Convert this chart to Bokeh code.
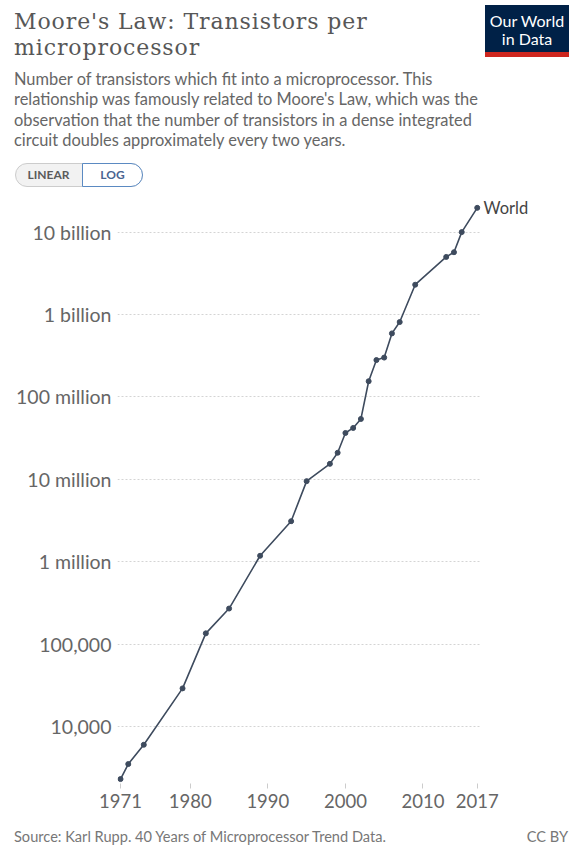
from bokeh.plotting import figure
from bokeh.layouts import column
from bokeh.models import Range1d, FixedTicker, LogAxis, Div
from bokeh.embed import file_html
from bokeh.resources import INLINE

# ---- data ----
years = [1971, 1972, 1974, 1979, 1982, 1985, 1989, 1993, 1995, 1998, 1999, 2000,
         2001, 2002, 2003, 2004, 2005, 2006, 2007, 2009, 2013, 2014, 2015, 2017]
transistors = [2300, 3500, 6000, 29000, 135000, 270000, 1180000, 3100000, 9500000,
               15400000, 21000000, 36500000, 42000000, 54000000, 155000000,
               280000000, 300000000, 590000000, 810000000, 2300000000,
               5000000000, 5700000000, 10000000000, 19700000000]
series_name = "World"

y_ticks = [10**4, 10**5, 10**6, 10**7, 10**8, 10**9, 10**10]
y_tick_labels = ["10,000", "100,000", "1 million", "10 million", "100 million",
                 "1 billion", "10 billion"]
x_ticks = [1971, 1980, 1990, 2000, 2010, 2017]
x_tick_labels = ["1971", "1980", "1990", "2000", "2010", "2017"]

title_lines = ["Moore's Law: Transistors per", "microprocessor"]
subtitle_lines = [
    "Number of transistors which fit into a microprocessor. This",
    "relationship was famously related to Moore's Law, which was the",
    "observation that the number of transistors in a dense integrated",
    "circuit doubles approximately every two years.",
]
source_text = "Source: Karl Rupp. 40 Years of Microprocessor Trend Data."
license_text = "CC BY"

# ---- styling ----
FONT = "Lato"
LINE_COLOR = "#3e4b5e"
W = 572
HEADER_H = 190
FOOTER_H = 22
FIG_H = 848 - HEADER_H - FOOTER_H

# ---- header (HTML) ----
title_html = "<br>".join(title_lines)
subtitle_html = "<br>".join(subtitle_lines)
CB = "box-sizing:content-box;"
header_html = f"""
<div style="position:relative;width:{W}px;height:{HEADER_H}px;overflow:hidden;">
  <div style="position:absolute;left:14px;top:9px;font-family:'DejaVu Serif';
       font-size:22px;line-height:25.8px;letter-spacing:0.9px;color:#575757;
       white-space:nowrap;">{title_html}</div>
  <div style="position:absolute;left:14px;top:69px;font-family:Lato;font-size:16.4px;
       line-height:20.3px;color:#666666;white-space:nowrap;">{subtitle_html}</div>
  <div style="{CB}position:absolute;left:485px;top:5px;width:84px;height:40px;padding-top:7px;
       background:#002147;border-bottom:5px solid #ce261e;color:white;font-family:Lato;
       font-size:16px;line-height:18px;text-align:center;">Our World<br>in Data</div>
  <div style="{CB}position:absolute;left:15px;top:163px;width:126px;height:22px;
       border:1px solid #cccccc;border-radius:12px;background:#f2f2f2;"></div>
  <div style="{CB}position:absolute;left:15px;top:163px;width:67px;height:24px;line-height:24px;
       text-align:center;font-family:Lato;font-size:12px;font-weight:bold;
       color:#5b5b5b;">LINEAR</div>
  <div style="{CB}position:absolute;left:82px;top:163px;width:59px;height:22px;line-height:22px;
       border:1px solid #5b8ac2;border-radius:0 12px 12px 0;background:white;
       text-align:center;font-family:Lato;font-size:12px;font-weight:bold;
       color:#4a6490;">LOG</div>
</div>
"""
header = Div(text=header_html, width=W, height=HEADER_H, margin=0)

footer_html = f"""
<div style="position:relative;width:{W}px;height:{FOOTER_H}px;font-family:Lato;
     font-size:14.6px;line-height:{FOOTER_H}px;color:#777777;white-space:nowrap;">
  <span style="position:absolute;left:14px;top:0;">{source_text}</span>
  <span style="position:absolute;right:4px;top:0;">{license_text}</span>
</div>
"""
footer = Div(text=footer_html, width=W, height=FOOTER_H, margin=0)

# ---- chart ----
p = figure(width=W, height=FIG_H, y_axis_type="log", title=None,
           x_range=Range1d(1970.61, 2017.55),
           y_range=Range1d(10**3.308, 10**10.408),
           output_backend="svg", toolbar_location=None,
           min_border_left=117, min_border_right=91,
           min_border_top=8, min_border_bottom=FIG_H - 8 - 585, margin=0)
p.outline_line_color = None
p.background_fill_color = "white"
p.border_fill_color = "white"

p.yaxis.ticker = FixedTicker(ticks=y_ticks)
p.yaxis.major_label_overrides = {t: l for t, l in zip(y_ticks, y_tick_labels)}
p.yaxis.axis_line_color = None
p.yaxis.major_tick_line_color = None
p.yaxis.major_tick_out = 0
p.yaxis.major_tick_in = 0
p.yaxis.minor_tick_line_color = None
p.yaxis.minor_tick_out = 0
p.yaxis.major_label_standoff = 6
p.yaxis.major_label_text_font = FONT
p.yaxis.major_label_text_font_size = "19.5px"
p.yaxis.major_label_text_color = "#666666"

p.xaxis.ticker = FixedTicker(ticks=x_ticks)
p.xaxis.major_label_overrides = {t: l for t, l in zip(x_ticks, x_tick_labels)}
p.xaxis.axis_line_color = None
p.xaxis.major_tick_line_color = "#cccccc"
p.xaxis.major_tick_in = 0
p.xaxis.major_tick_out = 5
p.xaxis.minor_tick_line_color = None
p.xaxis.major_label_standoff = 5
p.xaxis.major_label_text_font = FONT
p.xaxis.major_label_text_font_size = "18.5px"
p.xaxis.major_label_text_color = "#666666"

p.xgrid.grid_line_color = None
p.ygrid.grid_line_color = "#d4d4d4"
p.ygrid.grid_line_dash = "2 2"
p.ygrid.grid_line_width = 1

# series name as a label at the line's end (right-side axis at the last value)
end_axis = LogAxis(ticker=FixedTicker(ticks=[transistors[-1]]),
                   major_label_overrides={transistors[-1]: series_name},
                   axis_line_color=None, major_tick_line_color=None,
                   major_tick_out=0, major_tick_in=0, minor_tick_out=0,
                   minor_tick_line_color=None, major_label_standoff=2,
                   major_label_text_font=FONT, major_label_text_font_size="16.5px",
                   major_label_text_color="#444444")
p.add_layout(end_axis, "right")

p.line(years, transistors, line_color=LINE_COLOR, line_width=1.6)
p.scatter(years, transistors, size=5, fill_color=LINE_COLOR, line_color=LINE_COLOR)

layout = column(header, p, footer, spacing=0, margin=0)
open("out.html", "w").write(file_html(layout, INLINE))
